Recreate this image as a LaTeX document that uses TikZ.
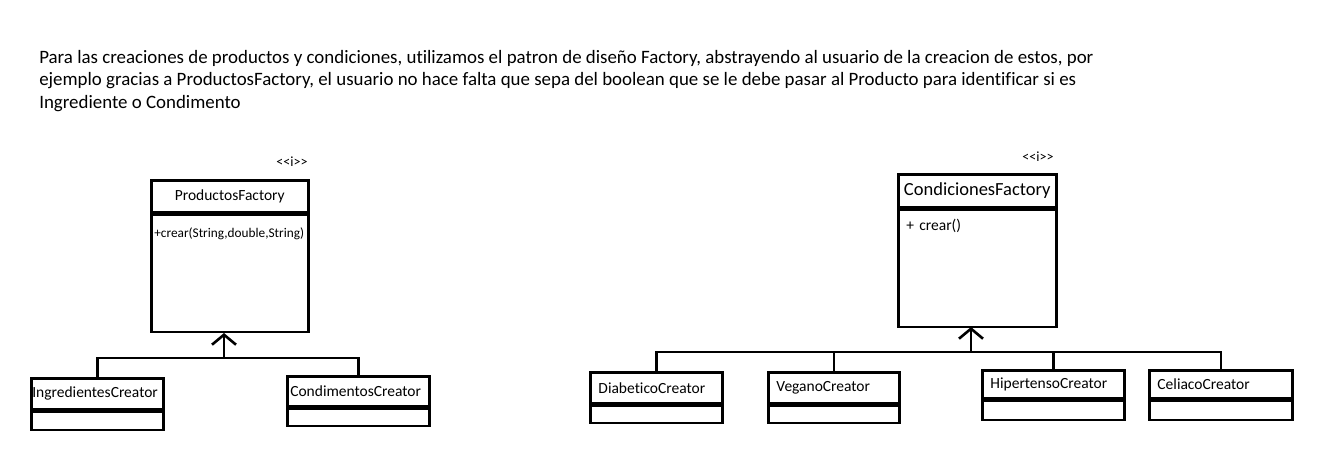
\documentclass[tikz,border=0pt]{standalone}
\usepackage{fontspec}
\setmainfont{Carlito}[Ligatures={TeX,NoCommon}]
\usetikzlibrary{arrows.meta,positioning}

\begin{document}
\begin{tikzpicture}[x=1pt,
            y=-1pt,
            line width=2.6pt,
            clase/.style={draw, anchor=north west, inner xsep=3pt, inner ysep=0pt,
                          align=left, font=\fontsize{15.5}{18}\selectfont},
            cuerpo/.style={draw, anchor=north west, inner xsep=3pt, inner ysep=0pt,
                          align=left, font=\fontsize{13.3}{16}\selectfont},
            estereotipo/.style={font=\fontsize{14}{16}\selectfont, inner sep=0pt},
            linea/.style={line width=2.6pt},
            herencia/.style={-{Straight Barb[length=10pt,width=24pt]}, line width=2.6pt}]

        \useasboundingbox (0,0) rectangle (1330,455);

        % texto de arriba
        \node[anchor=north west, inner sep=0pt, align=left,
              font=\fontsize{18.9}{22.5}\selectfont] (texto) at (38,49)
              {Para las creaciones de productos y condiciones, utilizamos el patron de diseño Factory, abstrayendo al usuario de la creacion de estos, por\\
               ejemplo gracias a ProductosFactory, el usuario no hace falta que sepa del boolean que se le debe pasar al Producto para identificar si es\\
               Ingrediente o Condimento};

        % productos
        \node[estereotipo] (ip) at (292,162) {<\kern0pt<i>\kern0pt>};
        \node[clase, align=center, text width=151, minimum height=32] (pf) at (150,179) {ProductosFactory};
        \node[cuerpo, text width=151, text height=23, text depth=94] (pfc) at (pf.south west) {+crear(String,double,String)};

        \node[clase, inner xsep=1pt, text width=130, minimum height=31] (ing) at (30,377) {IngredientesCreator};
        \node[cuerpo, minimum width=132, minimum height=18] (ingc) at (ing.south west) {};
        \node[clase, text width=136, minimum height=30] (cond) at (286,375) {CondimentosCreator};
        \node[cuerpo, minimum width=142, minimum height=17] (condc) at (cond.south west) {};

        \coordinate (tipP) at (224,333);
        \coordinate (barP) at (224,358);

        \draw[linea] (ing.north) |- (barP) -| (cond.north);
        \draw[herencia] (barP) -- (tipP);

        % condiciones
        \node[estereotipo] (ic) at (1038,157) {<\kern0pt<i>\kern0pt>};
        \node[clase, align=center, inner xsep=1pt, text width=156, minimum height=33,
              font=\fontsize{18.5}{20}\selectfont] (cf) at (897,173) {CondicionesFactory};
        \node[cuerpo, text width=152, text height=21, text depth=96,
              font=\fontsize{15.5}{18}\selectfont] (cfc) at (cf.south west) {~+ crear()};

        \node[clase, text width=126, minimum height=31] (dia) at (589,371) {~DiabeticoCreator};
        \node[cuerpo, minimum width=132, minimum height=17] (diac) at (dia.south west) {};
        \node[clase, text width=125, minimum height=31] (veg) at (767,371) {~VeganoCreator};
        \node[cuerpo, minimum width=131, minimum height=17] (vegc) at (veg.south west) {};
        \node[clase, text width=136, minimum height=28] (hip) at (981,369) {~HipertensoCreator};
        \node[cuerpo, minimum width=142, minimum height=19] (hipc) at (hip.south west) {};
        \node[clase, text width=137, minimum height=28] (cel) at (1148,369) {~CeliacoCreator};
        \node[cuerpo, minimum width=143, minimum height=19] (celc) at (cel.south west) {};

        \coordinate (tipC) at (971,327);
        \coordinate (barC) at (971,352);

        \draw[linea] (dia.north) |- (barC) -| (cel.north);
        \draw[linea] (veg.north) -- (veg.north |- barC);
        \draw[linea] (hip.north) -- (hip.north |- barC);
        \draw[herencia] (barC) -- (tipC);

    \end{tikzpicture}
\end{document}
